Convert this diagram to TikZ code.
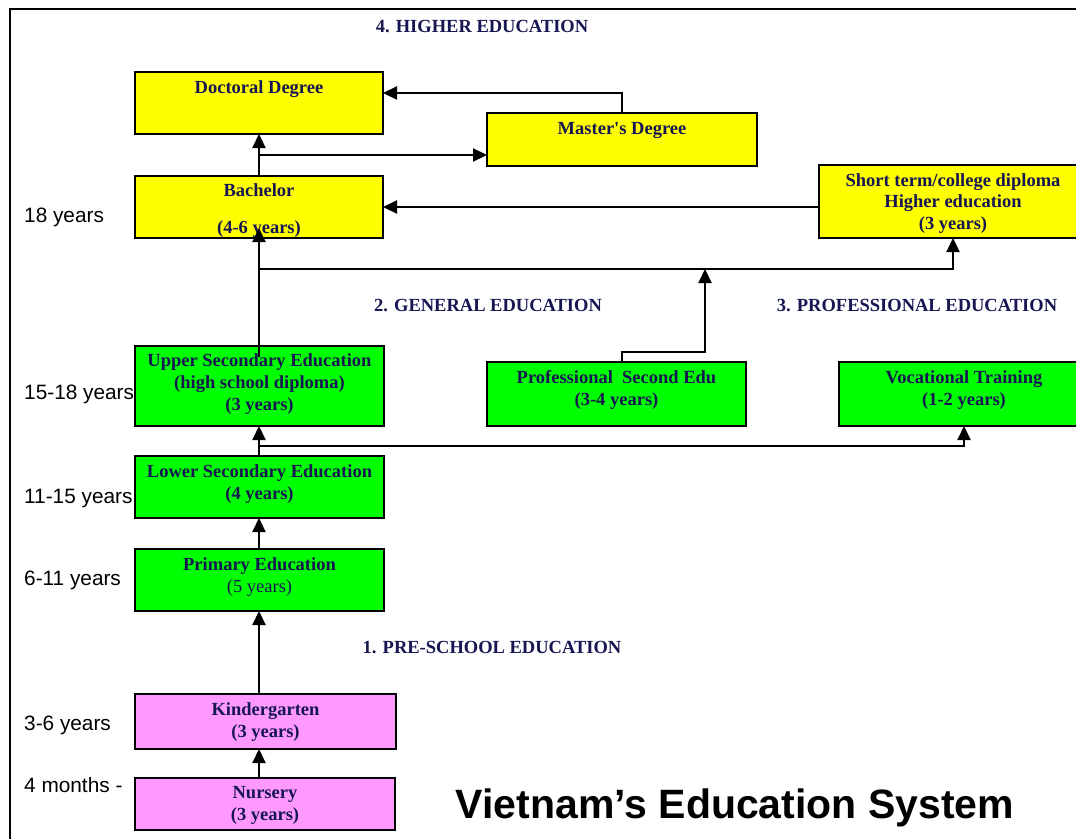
\documentclass[tikz,border=0pt]{standalone}
\usepackage{fontspec}
\setmainfont{Liberation Serif}
\newfontfamily\sansf{Liberation Sans}
\usetikzlibrary{arrows.meta}

\definecolor{navy}{RGB}{22,22,82}
\definecolor{hiyellow}{RGB}{255,255,0}
\definecolor{higreen}{RGB}{0,255,0}
\definecolor{pinkbox}{RGB}{255,153,255}

\tikzset{
  stage/.style={draw=black, line width=2.6pt, inner sep=0pt, outer sep=0pt},
  yellowbox/.style={stage, fill=hiyellow},
  greenbox/.style={stage, fill=higreen},
  pinkstage/.style={stage, fill=pinkbox},
  boxtext/.style={inner sep=0pt, anchor=north, align=center, text=navy,
    font=\fontsize{18.5}{22}\selectfont\bfseries},
  heading/.style={inner sep=0pt, anchor=base, text=navy,
    font=\fontsize{18.5}{22}\selectfont\bfseries},
  age/.style={inner sep=0pt, anchor=base west, text=black,
    font=\sansf\fontsize{20.8}{24}\selectfont},
  wire/.style={line width=2.2pt},
  link/.style={wire, -{Triangle[length=14pt,width=13pt]}},
}

\begin{document}
\begin{tikzpicture}[x=1pt, y=-1pt]
\useasboundingbox (0,0) rectangle (1076,838);
\clip (0,0) rectangle (1076,838);
\fill[white] (0,0) rectangle (1076,838);

% outer frame (open to the right and bottom)
\draw[line width=2.2pt] (10,850) -- (10,9) -- (1090,9);

% main column reference
\coordinate (spine) at (259,0);

% ---- stages ----
\node[yellowbox, minimum width=248pt, minimum height=62pt] (doc)   at (259,103) {};
\node[yellowbox, minimum width=270pt, minimum height=53pt] (mas)   at (622,139.5) {};
\node[yellowbox, minimum width=248pt, minimum height=62pt] (bach)  at (259,207) {};
\node[yellowbox, minimum width=268pt, minimum height=73pt] (short) at (953,201.5) {};
\node[greenbox,  minimum width=249pt, minimum height=80pt] (upper) at (259.5,386) {};
\node[greenbox,  minimum width=259pt, minimum height=64pt] (prof)  at (616.5,394) {};
\node[greenbox,  minimum width=250pt, minimum height=64pt] (voc)   at (964,394) {};
\node[greenbox,  minimum width=249pt, minimum height=62pt] (lower) at (259.5,487) {};
\node[greenbox,  minimum width=249pt, minimum height=62pt] (prim)  at (259.5,580) {};
\node[pinkstage, minimum width=261pt, minimum height=55pt] (kind)  at (265.5,721.5) {};
\node[pinkstage, minimum width=260pt, minimum height=52pt] (nurs)  at (265,804) {};

% ---- stage texts ----
\node[boxtext] (doc-t)   at (259,80)    {Doctoral Degree};
\node[boxtext] (mas-t)   at (622,122)   {Master\textquotesingle s Degree};
\node[boxtext] (bach-t)  at (259,183)   {Bachelor\\[15pt](4-6 years)};
\node[boxtext, font=\fontsize{18.5}{21.5}\selectfont\bfseries]
               (short-t) at (953,173)   {Short term/college diploma\\Higher education\\(3 years)};
\node[boxtext] (upper-t) at (259.5,353) {Upper Secondary Education\\(high school diploma)\\(3 years)};
\node[boxtext] (prof-t)  at (616.5,370) {Professional\ \ Second Edu\\(3-4 years)};
\node[boxtext] (voc-t)   at (964,370)   {Vocational Training\\(1-2 years)};
\node[boxtext] (lower-t) at (259.5,464) {Lower Secondary Education\\(4 years)};
\node[boxtext] (prim-t)  at (259.5,557) {Primary Education\\{\mdseries (5 years)}};
\node[boxtext] (kind-t)  at (265.5,702) {Kindergarten\\(3 years)};
\node[boxtext] (nurs-t)  at (265,786)   {Nursery\\(3 years)};

% ---- section headings ----
\node[heading] (h4) at (482,32)  {4. HIGHER EDUCATION};
\node[heading] (h2) at (488,311) {2. GENERAL EDUCATION};
\node[heading] (h3) at (917,311) {3. PROFESSIONAL EDUCATION};
\node[heading] (h1) at (492,653) {1. PRE-SCHOOL EDUCATION};

% ---- ages ----
\node[age] (a18)  at (24,222) {18 years};
\node[age] (a15)  at (24,399) {15-18 years};
\node[age] (a11)  at (24,503) {11-15 years};
\node[age] (a6)   at (24,585) {6-11 years};
\node[age] (a3)   at (24,730) {3-6 years};
\node[age] (a0)   at (24,792) {4 months -};

% ---- title ----
\node[inner sep=0pt, anchor=base, font=\sansf\bfseries\fontsize{41}{48}\selectfont]
  (title) at (735,818) {Vietnam’s Education System};

% ---- connectors ----
% pre-school and general education column
\draw[link] (nurs.north -| spine) -- (kind.south -| spine);
\draw[link] (kind.north -| spine) -- (prim.south -| spine);
\draw[link] (prim.north -| spine) -- (lower.south -| spine);
\draw[link] (lower.north -| spine) -- (upper.south -| spine);

% lower secondary to vocational training
\coordinate (j1) at (259,446);
\draw[link] (j1) -| (voc.south);

% upper secondary to bachelor and to the college diploma
\draw[link] ([yshift=-11pt]upper.north -| spine) -- ([yshift=10pt]bach.south -| spine);
\coordinate (j2) at (259,269);
\draw[link] (j2) -| (short.south);

% professional secondary to the higher education line
\coordinate (j3) at (705,269);
\draw[link] ([xshift=5.5pt]prof.north) -- ++(0,-10) -| (j3);

% college diploma to bachelor
\draw[link] (bach.east -| short.west) -- (bach.east);

% bachelor to doctoral and master
\draw[link] (bach.north -| spine) -- (doc.south -| spine);
\coordinate (j4) at (259,155);
\draw[link] (j4) -- (j4 -| mas.west);

% master to doctoral
\draw[link] (mas.north) |- ([yshift=10pt]doc.east);
\end{tikzpicture}
\end{document}
